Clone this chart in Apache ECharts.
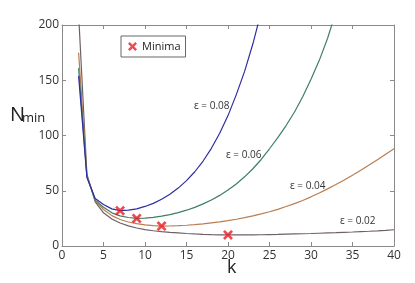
<!DOCTYPE html>
<html>
<head>
<meta charset="utf-8">
<script src="https://cdn.jsdelivr.net/npm/echarts@6/dist/echarts.min.js"></script>
<style>html,body{margin:0;padding:0;background:#fff;}#c{width:415px;height:283px;}</style>
</head>
<body>
<div id="c"></div>
<script>
// k values (integer) for each curve
const kValues = [2,3,4,5,6,7,8,9,10,11,12,13,14,15,16,17,18,19,20,21,22,23,24,25,26,27,28,29,30,31,32,33,34,35,36,37,38,39,40];
// N_min for eps = 0.02 (k = 2..40)
const nEps002 = [210,65,40,30,24.5,20.8,18.2,16.3,14.9,13.8,13.0,12.3,11.8,11.3,10.9,10.6,10.35,10.15,10.0,10.0,10.05,10.1,10.2,10.35,10.5,10.7,10.9,11.1,11.3,11.55,11.8,12.05,12.35,12.65,13.0,13.35,13.75,14.2,14.7];
// eps = 0.04 (k = 2..40)
const nEps004 = [175,64,41,33,27.5,24,21.7,20.2,19.2,18.5,18.0,18.1,18.35,18.8,19.3,20.0,20.9,21.8,22.95,24.2,25.7,27.3,29.05,31.0,33.2,35.7,38.4,41.2,44.5,48.0,51.7,55.6,59.7,64.0,68.5,73.2,78.0,83.0,88.0];
// eps = 0.06 (k = 2..33)
const nEps006 = [161,63,41.5,35,30,27.3,25.8,25.0,25.2,25.9,27.0,28.4,30.2,32.4,35.0,38.1,41.7,45.8,50.6,56.1,62.6,69.9,78.3,88,98,109,121,135,151,168,188,212];
// eps = 0.08 (k = 2..24)
const nEps008 = [154,62,43,37.5,33.6,32,32.4,33.6,35.8,38.6,42.3,46.9,52.4,59.2,67.2,76.9,88.4,102,118,137,158,183,212];
// minima
const minimaK = [7,9,12,20];
const minimaN = [32,25,18,10];
// ticks
const xTicks = [0,5,10,15,20,25,30,35,40];
const yTicks = [0,50,100,150,200];
const curveLabels = ['ε = 0.08','ε = 0.06','ε = 0.04','ε = 0.02'];

const pairs = (ys) => ys.map((y,i)=>[kValues[i], y]);
const X_PATH = 'path://M0,1.9 L1.9,0 L5,3.1 L8.1,0 L10,1.9 L6.9,5 L10,8.1 L8.1,10 L5,6.9 L1.9,10 L0,8.1 L3.1,5 Z';
const FONT = 'Open Sans';
const axisCol = '#8a8a8a';

const chart = echarts.init(document.getElementById('c'), null, {renderer:'canvas'});
const lineS = (name, data, color) => ({
  name, type:'line', data: pairs(data), showSymbol:false, smooth:false,
  lineStyle:{color, width:1.2}, itemStyle:{color}, clip:true, z:2, silent:true
});
chart.setOption({
  animation:false,
  backgroundColor:'#fff',
  grid:{left:62, right:21, top:25, bottom:37},
  legend:{
    show:true, left:121, top:36, orient:'vertical',
    data:[{name:'Minima', icon:X_PATH}],
    itemWidth:9, itemHeight:9,
    padding:[5,5,5,7],
    borderColor:'#666', borderWidth:1, backgroundColor:'#fff',
    textStyle:{fontFamily:FONT, fontSize:11, color:'#222'}
  },
  xAxis:[
    {type:'value', min:0, max:40, interval:5, position:'bottom',
     axisLine:{show:true, onZero:false, lineStyle:{color:axisCol}},
     axisTick:{show:true, inside:true, length:4, lineStyle:{color:axisCol}},
     axisLabel:{fontFamily:FONT, fontSize:12, color:'#333', margin:4, formatter:(v)=>xTicks.includes(v)?String(v):''},
     splitLine:{show:false}},
    {type:'value', min:0, max:40, interval:5, position:'top',
     axisLine:{show:true, onZero:false, lineStyle:{color:axisCol}},
     axisTick:{show:true, inside:true, length:4, lineStyle:{color:axisCol}},
     axisLabel:{show:false}, splitLine:{show:false}}
  ],
  yAxis:[
    {type:'value', min:0, max:200, interval:50, position:'left',
     axisLine:{show:true, onZero:false, lineStyle:{color:axisCol}},
     axisTick:{show:true, inside:true, length:4, lineStyle:{color:axisCol}},
     axisLabel:{fontFamily:FONT, fontSize:12, color:'#333', margin:3, formatter:(v)=>yTicks.includes(v)?String(v):''},
     splitLine:{show:false}},
    {type:'value', min:0, max:200, interval:50, position:'right',
     axisLine:{show:true, onZero:false, lineStyle:{color:axisCol}},
     axisTick:{show:true, inside:true, length:4, lineStyle:{color:axisCol}},
     axisLabel:{show:false}, splitLine:{show:false}}
  ],
  series:[
    lineS('e002', nEps002, '#6f6068'),
    lineS('e004', nEps004, '#b97d50'),
    lineS('e006', nEps006, '#3e7f62'),
    lineS('e008', nEps008, '#2e2ea3'),
    {name:'Minima', type:'scatter', data:minimaK.map((k,i)=>[k,minimaN[i]]),
     symbol:X_PATH, symbolSize:10, itemStyle:{color:'#ec1c24'}, z:5, silent:true}
  ],
  graphic:[
    {type:'text', left:10, top:105, style:{text:'N', font:'20px "Open Sans"', fill:'#222'}},
    {type:'text', left:22, top:112, style:{text:'min', font:'13px "Open Sans"', fill:'#222'}},
    {type:'text', left:227, top:259, style:{text:'k', font:'18px "Open Sans"', fill:'#222'}},
    {type:'text', left:194, top:101, style:{text:curveLabels[0], font:'10px "Open Sans"', fill:'#333'}},
    {type:'text', left:226, top:150, style:{text:curveLabels[1], font:'10px "Open Sans"', fill:'#333'}},
    {type:'text', left:290, top:181, style:{text:curveLabels[2], font:'10px "Open Sans"', fill:'#333'}},
    {type:'text', left:340, top:216, style:{text:curveLabels[3], font:'10px "Open Sans"', fill:'#333'}}
  ]
});
</script>
</body>
</html>
